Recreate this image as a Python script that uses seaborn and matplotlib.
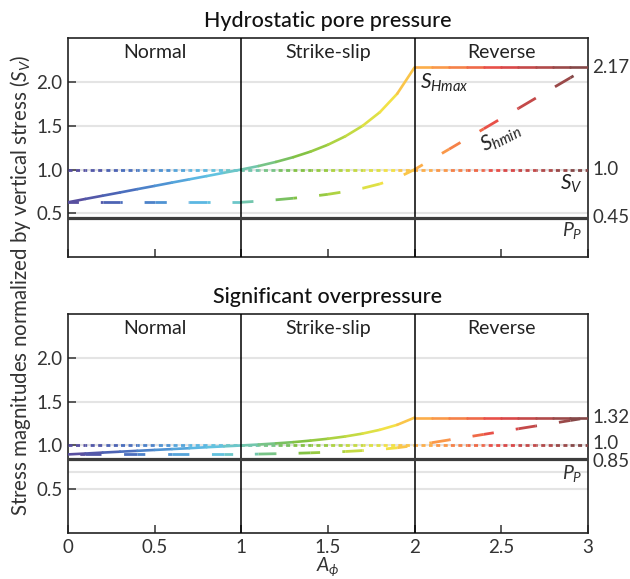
import numpy as np
import matplotlib
matplotlib.use("Agg")
import matplotlib.pyplot as plt
from matplotlib.collections import LineCollection
from matplotlib.colors import LinearSegmentedColormap
import seaborn as sns

# stress ratio parameter A_phi, sampled every 0.1
a_phi = [0.0, 0.1, 0.2, 0.3, 0.4, 0.5, 0.6, 0.7, 0.8, 0.9, 1.0,
         1.1, 1.2, 1.3, 1.4, 1.5, 1.6, 1.7, 1.8, 1.9, 2.0,
         2.1, 2.2, 2.3, 2.4, 2.5, 2.6, 2.7, 2.8, 2.9, 3.0]

# hydrostatic pore pressure (Pp = 0.45)
pp_hydro = 0.45
shmax_hydro = [0.626, 0.664, 0.701, 0.738, 0.776, 0.813, 0.851, 0.888, 0.925, 0.963, 1.000,
               1.040, 1.087, 1.141, 1.205, 1.283, 1.379, 1.499, 1.655, 1.866, 2.166,
               2.166, 2.166, 2.166, 2.166, 2.166, 2.166, 2.166, 2.166, 2.166, 2.166]
shmin_hydro = [0.626, 0.626, 0.626, 0.626, 0.626, 0.626, 0.626, 0.626, 0.626, 0.626, 0.626,
               0.639, 0.654, 0.672, 0.692, 0.717, 0.748, 0.786, 0.836, 0.904, 1.000,
               1.117, 1.233, 1.350, 1.466, 1.583, 1.699, 1.816, 1.933, 2.049, 2.166]

# significant overpressure (Pp = 0.85)
pp_over = 0.85
shmax_over = [0.898, 0.908, 0.919, 0.929, 0.939, 0.949, 0.959, 0.969, 0.980, 0.990, 1.000,
              1.011, 1.024, 1.038, 1.056, 1.077, 1.103, 1.136, 1.179, 1.236, 1.318,
              1.318, 1.318, 1.318, 1.318, 1.318, 1.318, 1.318, 1.318, 1.318, 1.318]
shmin_over = [0.898, 0.898, 0.898, 0.898, 0.898, 0.898, 0.898, 0.898, 0.898, 0.898, 0.898,
              0.902, 0.906, 0.910, 0.916, 0.923, 0.931, 0.942, 0.955, 0.974, 1.000,
              1.032, 1.064, 1.095, 1.127, 1.159, 1.191, 1.223, 1.254, 1.286, 1.318]

sv = [1.0] * len(a_phi)

regimes = ["Normal", "Strike-slip", "Reverse"]
regime_centers = [0.5, 1.5, 2.5]
y_ticks = [0.5, 1.0, 1.5, 2.0]
x_ticks = [0, 0.5, 1, 1.5, 2, 2.5, 3]
x_ticklabels = ["0", "0.5", "1", "1.5", "2", "2.5", "3"]

sns.set_theme(style="white")
plt.rcParams["font.family"] = ["Lato", "DejaVu Sans"]
plt.rcParams["mathtext.fontset"] = "custom"
plt.rcParams["mathtext.rm"] = "Lato"
plt.rcParams["mathtext.it"] = "Lato:italic"
plt.rcParams["mathtext.bf"] = "Lato:bold"
plt.rcParams["lines.scale_dashes"] = False

cmap = LinearSegmentedColormap.from_list("regime", [
    (0.00, "#5b4a9a"), (0.10, "#4a68ba"), (0.18, "#4f93d3"), (0.27, "#5ec1e6"),
    (0.33, "#6fc7c2"), (0.38, "#78c48c"), (0.44, "#7cbf44"), (0.53, "#b6d642"),
    (0.61, "#f1e546"), (0.667, "#fdb84a"), (0.74, "#f88a48"), (0.83, "#e64848"),
    (0.92, "#b04a4a"), (1.00, "#7a4848")])

fig = plt.figure(figsize=(6.3, 5.79), dpi=100)
ax_top = fig.add_axes([0.108, 0.556, 0.825, 0.378])
ax_bot = fig.add_axes([0.108, 0.0794, 0.825, 0.378])

DASH = (15.5, 16.0)
DOT = (2.9, 2.5)


def grad_line(ax, x, y, pattern=None, offset=0.0, lw=1.8):
    pts = np.column_stack([x, y])
    segs = np.stack([pts[:-1], pts[1:]], axis=1)
    mid = (pts[:-1, 0] + pts[1:, 0]) / 2
    colors = cmap(mid / 3.0)
    if pattern is None:
        styles = "solid"
        cap = "round"
    else:
        # keep the dash pattern running across segments
        disp = ax.transData.transform(pts) * 72.0 / fig.dpi
        seglen = np.hypot(*np.diff(disp, axis=0).T)
        start = np.concatenate([[0.0], np.cumsum(seglen)[:-1]])
        styles = [(s + offset, pattern) for s in start]
        cap = "butt"
    lc = LineCollection(segs, colors=colors, linewidths=lw, linestyles=styles,
                        capstyle=cap, zorder=3)
    ax.add_collection(lc)


panels = [
    (ax_top, "Hydrostatic pore pressure", shmax_hydro, shmin_hydro, pp_hydro,
     [(2.17, "2.17"), (1.0, "1.0"), (0.45, "0.45")], 8.0, 0.30, None),
    (ax_bot, "Significant overpressure", shmax_over, shmin_over, pp_over,
     [(1.32, "1.32"), (1.02, "1.0"), (0.82, "0.85")], 23.0, 0.68, 0.7),
]

for ax, title, shmax, shmin, pp, right_labels, dash_off, pp_label_y, extra_grid in panels:
    ax.set_xlim(0, 3)
    ax.set_ylim(0, 2.5)
    ax.set_yticks(y_ticks)
    ax.set_yticklabels(["0.5", "1.0", "1.5", "2.0"])
    ax.set_xticks(x_ticks)
    ax.set_xticklabels(x_ticklabels)
    ax.yaxis.grid(True, color="#e4e4e4", lw=1.5)
    ax.xaxis.grid(False)
    ax.set_axisbelow(True)
    ax.tick_params(direction="in", length=6, width=1.1, color="#333333",
                   labelsize=13.5, labelcolor="#333333", left=True, bottom=True, pad=4)
    for sp in ax.spines.values():
        sp.set_color("#222222")
        sp.set_linewidth(1.2)
    if extra_grid is not None:
        ax.axhline(extra_grid, color="#e4e4e4", lw=1.5, zorder=0.5)

    for xv in [1, 2]:
        ax.axvline(xv, color="black", lw=1.1, zorder=4)
    sns.lineplot(x=a_phi, y=[pp] * len(a_phi), ax=ax, color="#3d3d3d", lw=2.3, zorder=4)

    grad_line(ax, a_phi, sv, pattern=DOT, lw=2.0)
    grad_line(ax, a_phi, shmin, pattern=DASH, offset=dash_off, lw=2.0)
    grad_line(ax, a_phi, shmax, lw=1.9)

    for xc, name in zip(regime_centers, regimes):
        ax.text(xc, 2.34, name, ha="center", va="center", fontsize=14, color="#222222")

    ax.set_title(title, fontsize=15.5, color="#111111", pad=8, fontweight="medium")

    tr = ax.get_yaxis_transform()
    for yv, lab in right_labels:
        ax.text(1.009, yv, lab, transform=tr, ha="left", va="center",
                fontsize=13.5, color="#333333", clip_on=False)

    ax.text(2.97, pp_label_y, r"$P_P$", ha="right", va="center", fontsize=14, color="#333333")

# curve labels only on the top panel
ax_top.text(2.03, 2.12, r"$S_{Hmax}$", ha="left", va="top", fontsize=15, color="#222222")
ax_top.text(2.5, 1.37, r"$S_{hmin}$", ha="center", va="center", fontsize=15,
            color="#222222", rotation=27)
ax_top.text(2.97, 0.84, r"$S_V$", ha="right", va="center", fontsize=15, color="#222222")

ax_top.tick_params(labelbottom=False)
fig.text(0.52, 0.021, r"$A_\phi$", ha="center", va="center", fontsize=14, color="#333333")

fig.text(0.032, 0.508, r"Stress magnitudes normalized by vertical stress ($S_V$)",
         rotation=90, ha="center", va="center", fontsize=14.8, color="#333333")

fig.savefig("out.png", dpi=100)
